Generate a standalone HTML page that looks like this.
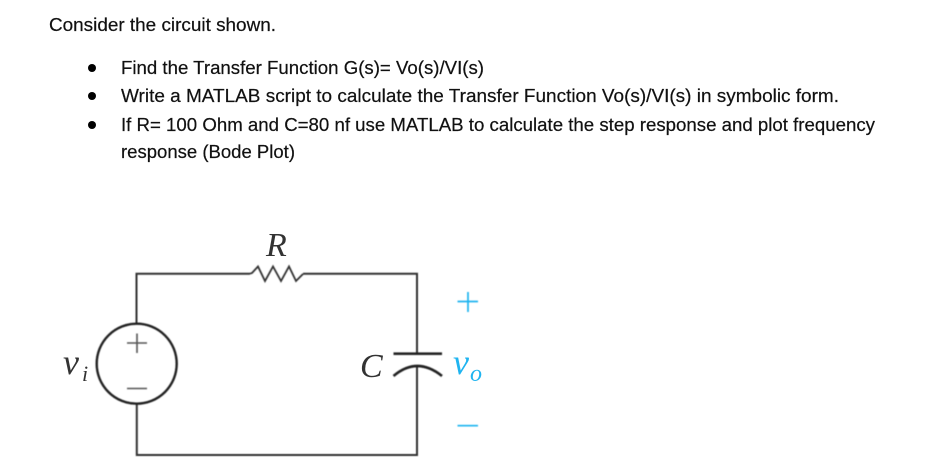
<!DOCTYPE html>
<html>
<head>
<meta charset="utf-8">
<style>
html,body{margin:0;padding:0;background:#fff;width:925px;height:463px;overflow:hidden}
svg{display:block}
.t{font-family:"Liberation Sans",sans-serif;font-size:18px;fill:#111;stroke:#111;stroke-width:.2px}
.m{font-family:"Liberation Serif",serif;font-style:italic;fill:#333}
</style>
</head>
<body>
<svg width="925" height="463" viewBox="0 0 925 463" xmlns="http://www.w3.org/2000/svg">
<defs><filter id="s" x="-5%" y="-5%" width="110%" height="110%"><feGaussianBlur stdDeviation="0.4"/></filter></defs>
<text class="t" x="49" y="31" textLength="227" lengthAdjust="spacingAndGlyphs">Consider the circuit shown.</text>
<circle cx="92" cy="68" r="4" fill="#000"/>
<circle cx="92" cy="96" r="4" fill="#000"/>
<circle cx="92" cy="125" r="4" fill="#000"/>
<text class="t" x="121" y="74" textLength="363" lengthAdjust="spacingAndGlyphs">Find the Transfer Function G(s)= Vo(s)/VI(s)</text>
<text class="t" x="121" y="102" textLength="718" lengthAdjust="spacingAndGlyphs">Write a MATLAB script to calculate the Transfer Function Vo(s)/VI(s) in symbolic form.</text>
<text class="t" x="121" y="131" textLength="754" lengthAdjust="spacingAndGlyphs">If R= 100 Ohm and C=80 nf use MATLAB to calculate the step response and plot frequency</text>
<text class="t" x="121" y="158" textLength="174" lengthAdjust="spacingAndGlyphs">response (Bode Plot)</text>

<g filter="url(#s)">
<g fill="none" stroke="#333" stroke-width="2">
<path d="M136.500 324V273.700H250"/>
<path d="M303 273.700H417V354"/>
<path d="M417 366V455H136.800V404"/>
<path d="M250 273.700L252 273 258 266.500 265 281 273 266.500 281 281 289 266.500 296 281 303 274" stroke-width="1.800"/>
</g>
<circle cx="136.700" cy="363.700" r="40" fill="none" stroke="#222" stroke-width="2.400"/>
<path d="M127 343H147M137 333.500V353M127 388.500H147" stroke="#555" stroke-width="1.600" fill="none"/>
<path d="M393.500 353.700H442" stroke="#222" stroke-width="2.600" fill="none"/>
<path d="M393.500 376Q417 356 442 376" stroke="#222" stroke-width="2.600" fill="none"/>
<path d="M457.500 301.500H478M468 292V312M457.500 425.700H478" stroke="#1fb4f0" stroke-width="1.700" fill="none"/>
</g>
<text class="m" font-style="italic" x="266" y="256" font-size="34">R</text>
<text class="m" font-style="italic" x="360" y="377" font-size="34">C</text>
<text class="m" font-style="italic" x="63" y="374" font-size="36">v</text>
<text class="m" font-style="italic" x="82" y="381" font-size="22">i</text>
<text class="m" font-style="italic" x="453" y="374" font-size="36" style="fill:#1fb4f0">v</text>
<text class="m" font-style="italic" x="470" y="381" font-size="24" style="fill:#1fb4f0">o</text>
</svg>
</body>
</html>
